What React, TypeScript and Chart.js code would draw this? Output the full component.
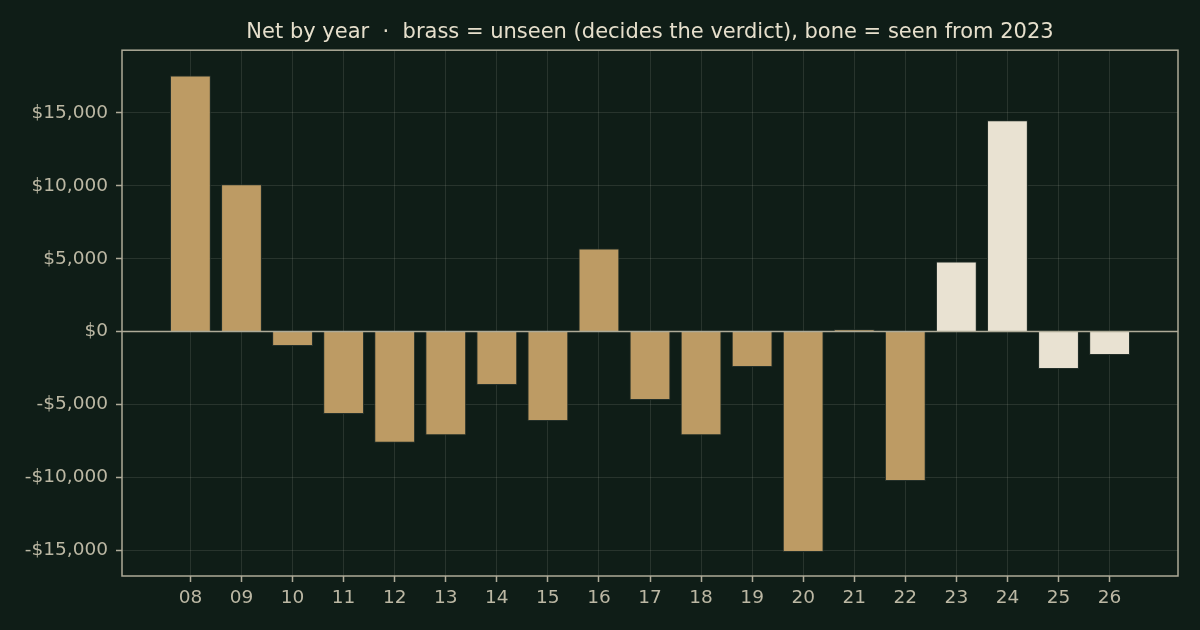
import { useEffect, useRef } from "react";
import { Chart, registerables } from "chart.js";

Chart.register(...registerables);

/* ================= DATA ================= */

const years = [
  2008, 2009, 2010, 2011, 2012, 2013, 2014, 2015, 2016, 2017, 2018, 2019,
  2020, 2021, 2022, 2023, 2024, 2025, 2026,
];
const net = [
  17560, 10100, -990, -5650, -7620, -7100, -3660, -6130, 5700, -4690, -7100,
  -2430, -15110, 160, -10250, 4810, 14490, -2560, -1600,
];
const seenFrom = 2023;
const yTicks = [-15000, -10000, -5000, 0, 5000, 10000, 15000];
const titleText =
  "Net by year  ·  brass = unseen (decides the verdict), bone = seen from 2023";

/* ================= THEME ================= */

const theme = {
  bg: "#0f1d17",
  brass: "#bd9b64",
  bone: "#e9e2d2",
  edge: "#24302a",
  grid: "rgba(210,210,190,0.13)",
  frame: "#aeab98",
  tick: "#bcb8a4",
  title: "#e6dfcc",
  font: "'DejaVu Sans', sans-serif",
};

const money = (v: number) =>
  (v < 0 ? "-" : "") + "$" + Math.abs(v).toLocaleString("en-US");

// background, frame on all four sides and the zero line
const framePlugin = {
  id: "frame",
  beforeDraw(chart: Chart) {
    const { ctx, width, height } = chart;
    ctx.save();
    ctx.fillStyle = theme.bg;
    ctx.fillRect(0, 0, width, height);
    ctx.restore();
  },
  afterDraw(chart: Chart) {
    const { ctx, chartArea: a } = chart;
    const y0 = chart.scales.y.getPixelForValue(0);
    ctx.save();
    ctx.strokeStyle = theme.frame;
    ctx.lineWidth = 1.5;
    ctx.beginPath();
    ctx.moveTo(a.left, y0);
    ctx.lineTo(a.right, y0);
    ctx.stroke();
    ctx.strokeRect(a.left, a.top, a.right - a.left, a.bottom - a.top);
    ctx.restore();
  },
};

export default function App() {
  const canvasRef = useRef<HTMLCanvasElement>(null);

  useEffect(() => {
    document.body.style.margin = "0";
    document.body.style.background = theme.bg;
    if (!canvasRef.current) return;

    const chart = new Chart(canvasRef.current, {
      type: "bar",
      data: {
        datasets: [
          {
            data: years.map((yr, i) => ({ x: yr, y: net[i] })),
            backgroundColor: years.map((yr) =>
              yr >= seenFrom ? theme.bone : theme.brass
            ),
            borderColor: theme.edge,
            borderWidth: 1,
            barPercentage: 0.8,
            categoryPercentage: 1,
          },
        ],
      },
      options: {
        animation: false,
        responsive: true,
        maintainAspectRatio: false,
        layout: { padding: { left: 0, right: 22, top: 0, bottom: 0 } },
        plugins: {
          legend: { display: false },
          tooltip: { enabled: false },
          title: {
            display: true,
            text: titleText,
            color: theme.title,
            fullSize: false,
            font: { family: theme.font, size: 21, weight: "normal" },
            padding: { top: 20, bottom: 5 },
          },
        },
        scales: {
          x: {
            type: "linear",
            min: 2006.66,
            max: 2027.34,
            offset: false,
            z: 1,
            afterBuildTicks: (s: any) => {
              s.ticks = years.map((v) => ({ value: v }));
            },
            afterFit: (s: any) => {
              s.height = 54;
            },
            border: { display: false },
            grid: {
              offset: false,
              color: theme.grid,
              tickColor: theme.frame,
              tickLength: 6,
              tickWidth: 1.5,
            },
            ticks: {
              color: theme.tick,
              font: { family: theme.font, size: 18.5 },
              padding: 5,
              maxRotation: 0,
              autoSkip: false,
              callback: (v: any) => String(Number(v) % 100).padStart(2, "0"),
            },
          },
          y: {
            min: -16760,
            max: 19300,
            z: 1,
            afterBuildTicks: (s: any) => {
              s.ticks = yTicks.map((v) => ({ value: v }));
            },
            afterFit: (s: any) => {
              s.width = 122;
            },
            border: { display: false },
            grid: {
              color: theme.grid,
              tickColor: theme.frame,
              tickLength: 6,
              tickWidth: 1.5,
            },
            ticks: {
              color: theme.tick,
              font: { family: theme.font, size: 18.5 },
              padding: 8,
              callback: (v: any) => money(Number(v)),
            },
          },
        },
      },
      plugins: [framePlugin],
    });

    return () => chart.destroy();
  }, []);

  return (
    <div style={{ position: "relative", width: 1200, height: 630 }}>
      <canvas ref={canvasRef} />
    </div>
  );
}
